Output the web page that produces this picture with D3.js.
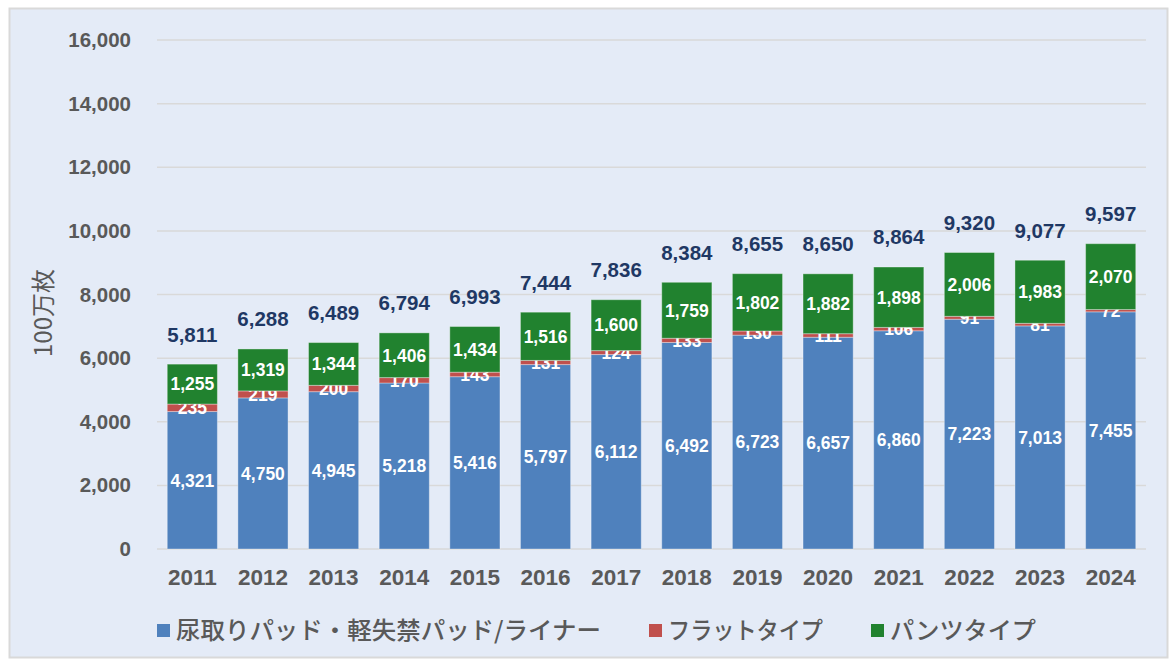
<!DOCTYPE html>
<html>
<head>
<meta charset="utf-8">
<script src="https://cdn.jsdelivr.net/npm/d3@7"></script>
<style>
  html, body { margin: 0; padding: 0; background: #fff; }
  svg { display: block; }
</style>
</head>
<body>
<svg id="chart" width="1172" height="661"></svg>
<script>
// data (unit: 100万枚)
const years = ['2011','2012','2013','2014','2015','2016','2017','2018','2019','2020','2021','2022','2023','2024']
const padLiner = [4321,4750,4945,5218,5416,5797,6112,6492,6723,6657,6860,7223,7013,7455]
const flatType = [235,219,200,170,143,131,124,133,130,111,106,91,81,72]
const pantsType = [1255,1319,1344,1406,1434,1516,1600,1759,1802,1882,1898,2006,1983,2070]
const totals = [5811,6288,6489,6794,6993,7444,7836,8384,8655,8650,8864,9320,9077,9597]
const yTicks = [0,2000,4000,6000,8000,10000,12000,14000,16000]
const seriesNames = ['尿取りパッド・軽失禁パッド/ライナー', 'フラットタイプ', 'パンツタイプ']
const colors = ['#4F81BD', '#C0504D', '#21822F']

const svg = d3.select('#chart')
const W = 1172, H = 661
const numFont = '"Liberation Sans", Arial, sans-serif'
const jpFont = '"Noto Sans CJK JP", "Noto Sans", sans-serif'

// panel background + frame
svg.append('rect')
  .attr('x', 9.5).attr('y', 8.5)
  .attr('width', W - 14).attr('height', H - 12)
  .attr('fill', '#E4EBF7')
  .attr('stroke', '#D9D9D9')
  .attr('stroke-width', 2)

const x = d3.scaleBand()
  .domain(years)
  .range([157, 1146])
  .paddingInner(0.29)
  .paddingOuter(0.145)

const y = d3.scaleLinear()
  .domain([0, 16000])
  .range([549, 40])

// gridlines
svg.append('g')
  .selectAll('line')
  .data(yTicks)
  .join('line')
  .attr('x1', 157).attr('x2', 1146)
  .attr('y1', d => y(d)).attr('y2', d => y(d))
  .attr('stroke', '#D9D9D9')
  .attr('stroke-width', 1.5)

// y axis tick labels
const yAxis = svg.append('g')
  .attr('transform', 'translate(157,0)')
  .call(d3.axisLeft(y).tickValues(yTicks).tickFormat(d3.format(',')).tickSize(0).tickPadding(26))
yAxis.select('.domain').remove()
yAxis.selectAll('text')
  .attr('fill', '#595959')
  .style('font-family', numFont)
  .style('font-size', '20.5px')
  .style('font-weight', 'bold')

// x axis labels
const xAxis = svg.append('g')
  .attr('transform', 'translate(0,549)')
  .call(d3.axisBottom(x).tickSize(0).tickPadding(20))
xAxis.select('.domain').remove()
xAxis.selectAll('text')
  .attr('fill', '#595959')
  .style('font-family', numFont)
  .style('font-size', '22.5px')
  .style('font-weight', 'bold')

// y axis title
svg.append('text')
  .attr('transform', 'translate(52,313) rotate(-90)')
  .attr('text-anchor', 'middle')
  .attr('fill', '#595959')
  .style('font-family', jpFont)
  .style('font-size', '24px')
  .text('100万枚')

// stacked bars
const rows = years.map((yr, i) => ({ year: yr, s0: padLiner[i], s1: flatType[i], s2: pantsType[i] }))
const stack = d3.stack().keys(['s0', 's1', 's2'])(rows)

const layers = svg.append('g')
  .selectAll('g')
  .data(stack)
  .join('g')
  .attr('fill', (d, i) => colors[i])

layers.selectAll('rect')
  .data(d => d)
  .join('rect')
  .attr('x', d => x(d.data.year))
  .attr('width', x.bandwidth())
  .attr('y', d => y(d[1]))
  .attr('height', d => y(d[0]) - y(d[1]))
  .attr('stroke', 'rgba(255,255,255,0.35)')
  .attr('stroke-width', 1)

// segment value labels
layers.selectAll('text')
  .data(d => d.map(p => ({ p, key: d.key })))
  .join('text')
  .attr('x', d => x(d.p.data.year) + x.bandwidth() / 2)
  .attr('y', d => (y(d.p[0]) + y(d.p[1])) / 2)
  .attr('dy', '0.36em')
  .attr('text-anchor', 'middle')
  .attr('fill', '#fff')
  .style('font-family', numFont)
  .style('font-size', '17.5px')
  .style('font-weight', 'bold')
  .text(d => d3.format(',')(d.p.data[d.key]))

// totals above bars
svg.append('g')
  .selectAll('text')
  .data(totals)
  .join('text')
  .attr('x', (d, i) => x(years[i]) + x.bandwidth() / 2)
  .attr('y', d => y(d) - 30)
  .attr('dy', '0.36em')
  .attr('text-anchor', 'middle')
  .attr('fill', '#1F3864')
  .style('font-family', numFont)
  .style('font-size', '20.5px')
  .style('font-weight', 'bold')
  .text(d => d3.format(',')(d))

// legend
const legendX = [157, 649, 871]
const legendLen = [425, 155, 146]
const legend = svg.append('g')
  .selectAll('g')
  .data(seriesNames)
  .join('g')
  .attr('transform', (d, i) => `translate(${legendX[i]},630.5)`)
legend.append('rect')
  .attr('x', 0).attr('y', -6.5)
  .attr('width', 13).attr('height', 13)
  .attr('fill', (d, i) => colors[i])
legend.append('text')
  .attr('x', 19)
  .attr('dy', '0.36em')
  .attr('fill', '#595959')
  .attr('textLength', (d, i) => legendLen[i])
  .attr('lengthAdjust', 'spacingAndGlyphs')
  .style('font-family', jpFont)
  .style('font-size', '24px')
  .style('font-weight', '500')
  .text(d => d)
</script>
</body>
</html>
